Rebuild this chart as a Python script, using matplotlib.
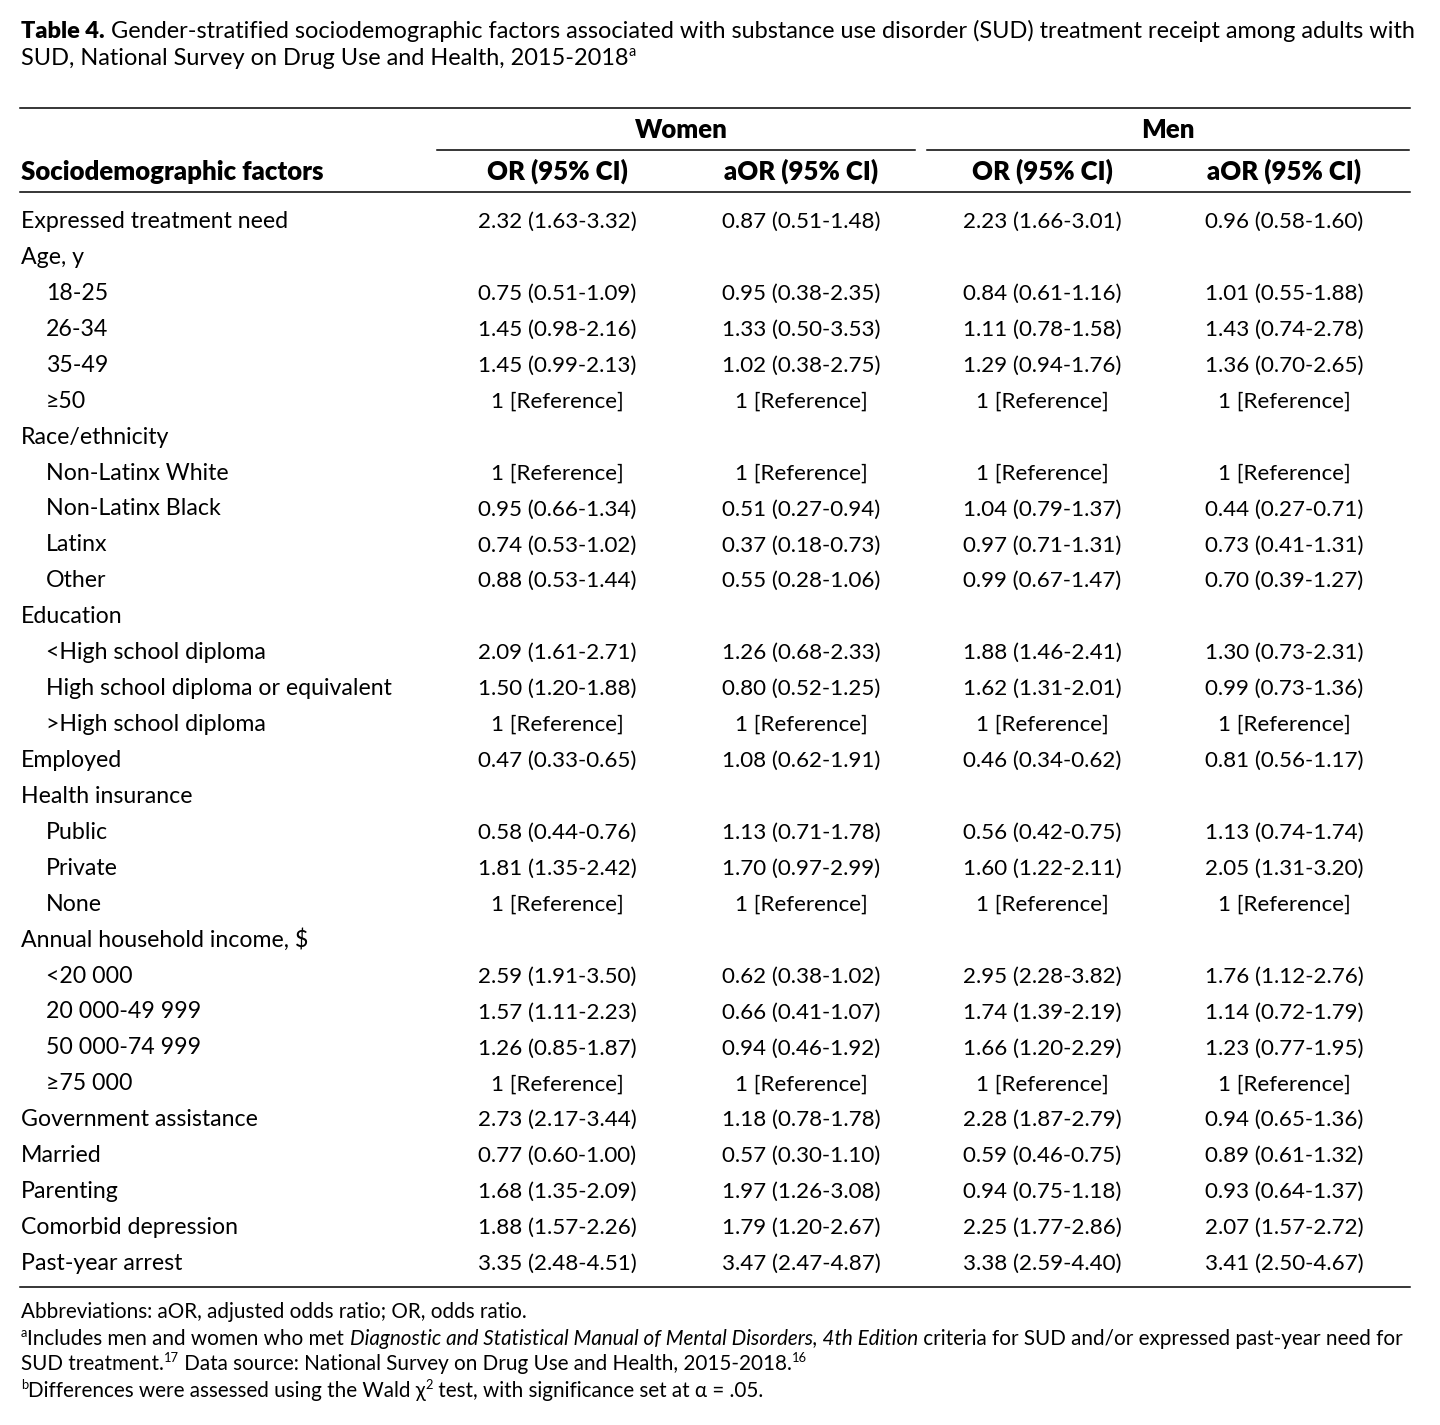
import matplotlib
matplotlib.use("Agg")
import matplotlib.pyplot as plt

FONT = "Lato"

# ---- table data ----
row_labels = [
    "Expressed treatment need", "Age, y", "18-25", "26-34", "35-49", "\u226550",
    "Race/ethnicity", "Non-Latinx White", "Non-Latinx Black", "Latinx", "Other",
    "Education", "<High school diploma", "High school diploma or equivalent",
    ">High school diploma", "Employed", "Health insurance", "Public", "Private",
    "None", "Annual household income, $", "<20 000", "20 000-49 999",
    "50 000-74 999", "\u226575 000", "Government assistance", "Married",
    "Parenting", "Comorbid depression", "Past-year arrest",
]
indented = [0, 0, 1, 1, 1, 1, 0, 1, 1, 1, 1, 0, 1, 1, 1, 0, 0, 1, 1, 1,
            0, 1, 1, 1, 1, 0, 0, 0, 0, 0]

REF = "1 [Reference]"
women_or = [
    "2.32 (1.63-3.32)", "", "0.75 (0.51-1.09)", "1.45 (0.98-2.16)", "1.45 (0.99-2.13)", REF,
    "", REF, "0.95 (0.66-1.34)", "0.74 (0.53-1.02)", "0.88 (0.53-1.44)",
    "", "2.09 (1.61-2.71)", "1.50 (1.20-1.88)", REF, "0.47 (0.33-0.65)",
    "", "0.58 (0.44-0.76)", "1.81 (1.35-2.42)", REF,
    "", "2.59 (1.91-3.50)", "1.57 (1.11-2.23)", "1.26 (0.85-1.87)", REF,
    "2.73 (2.17-3.44)", "0.77 (0.60-1.00)", "1.68 (1.35-2.09)", "1.88 (1.57-2.26)",
    "3.35 (2.48-4.51)",
]
women_aor = [
    "0.87 (0.51-1.48)", "", "0.95 (0.38-2.35)", "1.33 (0.50-3.53)", "1.02 (0.38-2.75)", REF,
    "", REF, "0.51 (0.27-0.94)", "0.37 (0.18-0.73)", "0.55 (0.28-1.06)",
    "", "1.26 (0.68-2.33)", "0.80 (0.52-1.25)", REF, "1.08 (0.62-1.91)",
    "", "1.13 (0.71-1.78)", "1.70 (0.97-2.99)", REF,
    "", "0.62 (0.38-1.02)", "0.66 (0.41-1.07)", "0.94 (0.46-1.92)", REF,
    "1.18 (0.78-1.78)", "0.57 (0.30-1.10)", "1.97 (1.26-3.08)", "1.79 (1.20-2.67)",
    "3.47 (2.47-4.87)",
]
men_or = [
    "2.23 (1.66-3.01)", "", "0.84 (0.61-1.16)", "1.11 (0.78-1.58)", "1.29 (0.94-1.76)", REF,
    "", REF, "1.04 (0.79-1.37)", "0.97 (0.71-1.31)", "0.99 (0.67-1.47)",
    "", "1.88 (1.46-2.41)", "1.62 (1.31-2.01)", REF, "0.46 (0.34-0.62)",
    "", "0.56 (0.42-0.75)", "1.60 (1.22-2.11)", REF,
    "", "2.95 (2.28-3.82)", "1.74 (1.39-2.19)", "1.66 (1.20-2.29)", REF,
    "2.28 (1.87-2.79)", "0.59 (0.46-0.75)", "0.94 (0.75-1.18)", "2.25 (1.77-2.86)",
    "3.38 (2.59-4.40)",
]
men_aor = [
    "0.96 (0.58-1.60)", "", "1.01 (0.55-1.88)", "1.43 (0.74-2.78)", "1.36 (0.70-2.65)", REF,
    "", REF, "0.44 (0.27-0.71)", "0.73 (0.41-1.31)", "0.70 (0.39-1.27)",
    "", "1.30 (0.73-2.31)", "0.99 (0.73-1.36)", REF, "0.81 (0.56-1.17)",
    "", "1.13 (0.74-1.74)", "2.05 (1.31-3.20)", REF,
    "", "1.76 (1.12-2.76)", "1.14 (0.72-1.79)", "1.23 (0.77-1.95)", REF,
    "0.94 (0.65-1.36)", "0.89 (0.61-1.32)", "0.93 (0.64-1.37)", "2.07 (1.57-2.72)",
    "3.41 (2.50-4.67)",
]
columns = [women_or, women_aor, men_or, men_aor]
col_headers = ["OR (95% CI)", "aOR (95% CI)", "OR (95% CI)", "aOR (95% CI)"]
groups = ["Women", "Men"]

# ---- figure in pixel coordinates ----
fig = plt.figure(figsize=(14.4, 14.25), dpi=100)
ax = fig.add_axes([0, 0, 1, 1])
ax.set_xlim(0, 1440)
ax.set_ylim(1425, 0)
ax.axis("off")
fig.canvas.draw()
renderer = fig.canvas.get_renderer()

TITLE = 16.9
LABEL = 16.7
VALUE = 16.1
HEAD = 18.5
NOTE = 14.9


def run(x, y, parts, size=NOTE):
    # draw a line of mixed-style text segments, left to right
    for p in parts:
        txt = p[0]
        opts = dict(p[1]) if len(p) > 1 else {}
        sup = opts.pop("sup", False)
        fs = size * 0.62 if sup else size
        yy = y - size * 0.55 if sup else y
        t = ax.text(x, yy, txt, fontsize=fs, family=FONT, va="baseline",
                    ha="left", **opts)
        x += t.get_window_extent(renderer).width


# title
run(21, 38, [("Table 4.", {"weight": "heavy"}),
             (" Gender-stratified sociodemographic factors associated with substance use "
              "disorder (SUD) treatment receipt among adults with",)], size=TITLE)
run(21, 65, [("SUD, National Survey on Drug Use and Health, 2015-2018",),
             ("a", {"sup": True})], size=TITLE)

# rules
lx0, lx1 = 20, 1410
ax.plot([lx0, lx1], [108, 108], color="black", lw=1.1)
ax.plot([lx0, lx1], [192, 192], color="black", lw=1.1)
ax.plot([lx0, lx1], [1287, 1287], color="black", lw=1.1)
ax.plot([437, 915], [150, 150], color="black", lw=1.1)
ax.plot([927, 1409], [150, 150], color="black", lw=1.1)

col_x = [557, 801, 1042, 1284]
ax.text(681, 138, groups[0], fontsize=HEAD, family=FONT, weight="heavy",
        ha="center", va="baseline")
ax.text(1168, 138, groups[1], fontsize=HEAD, family=FONT, weight="heavy",
        ha="center", va="baseline")
ax.text(21, 180, "Sociodemographic factors", fontsize=HEAD, family=FONT,
        weight="heavy", ha="left", va="baseline")
for cx, h in zip(col_x, col_headers):
    ax.text(cx, 180, h, fontsize=HEAD, family=FONT, weight="heavy",
            ha="center", va="baseline")

# body rows
y0, dy = 228, 35.93
for i, lab in enumerate(row_labels):
    y = y0 + i * dy
    ax.text(46 if indented[i] else 21, y, lab, fontsize=LABEL, family=FONT,
            ha="left", va="baseline")
    for cx, col in zip(col_x, columns):
        if col[i]:
            ax.text(cx, y, col[i], fontsize=VALUE, family=FONT,
                    ha="center", va="baseline")

# footnotes
run(21, 1318, [("Abbreviations: aOR, adjusted odds ratio; OR, odds ratio.",)])
run(21, 1345, [("a", {"sup": True}),
               ("Includes men and women who met ",),
               ("Diagnostic and Statistical Manual of Mental Disorders, 4th Edition",
                {"style": "italic"}),
               (" criteria for SUD and/or expressed past-year need for",)])
run(21, 1370, [("SUD treatment.",), ("17", {"sup": True}),
               (" Data source: National Survey on Drug Use and Health, 2015-2018.",),
               ("16", {"sup": True})])
run(21, 1397, [("b", {"sup": True}),
               ("Differences were assessed using the Wald \u03c7",),
               ("2", {"sup": True}),
               (" test, with significance set at \u03b1 = .05.",)])

fig.savefig("out.png", dpi=100)
